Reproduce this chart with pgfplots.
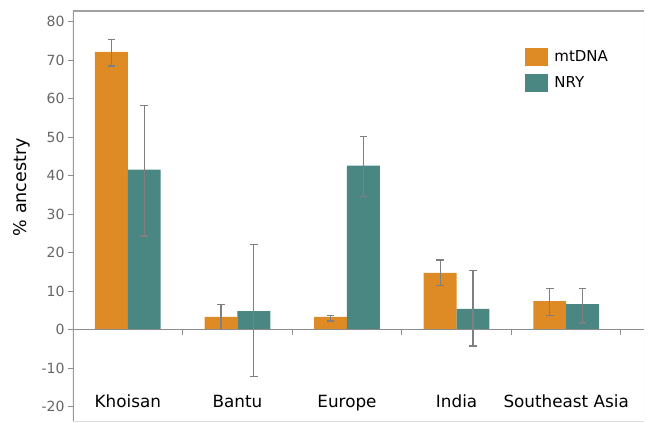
\documentclass[border=0pt]{standalone}
\usepackage{pgfplots}
\pgfplotsset{compat=1.18}
\usepackage{pgfplotstable}
\usepackage{fontspec}
\setmainfont{DejaVu Sans}
\definecolor{orng}{HTML}{DF8B25}
\definecolor{teal2}{HTML}{4A8682}
\definecolor{axgray}{HTML}{8C8C8C}
\definecolor{tkgray}{HTML}{666666}
\definecolor{errgray}{HTML}{7F7F7F}
\definecolor{topgray}{HTML}{A0A0A0}
\definecolor{lightgray2}{HTML}{DDDDDD}
\definecolor{leftgray}{HTML}{999999}

\pgfplotstableread{
x y ep em
0 72.2 3.2 3.7
1 3.3 3.2 3.3
2 3.3 0.4 1.1
3 14.7 3.4 3.2
4 7.4 3.2 3.7
}\mtdna
\pgfplotstableread{
x y ep em
0 41.6 16.6 17.3
1 4.8 17.3 16.9
2 42.6 7.6 8.1
3 5.4 10.0 9.7
4 6.6 4.0 4.9
}\nry

\begin{document}
\begin{tikzpicture}
\path[use as bounding box] (-73pt,-1.5pt) rectangle (575pt,421.5pt);
\begin{axis}[
  at={(0,0)}, anchor=south west,
  scale only axis, width=571pt, height=410.5pt,
  xmin=-0.5, xmax=4.71, ymin=-23.9, ymax=82.8,
  axis line style={draw=none},
  ybar=0pt, bar width=0.3,
  xtick={0,1,2,3,4},
  xticklabels={Khoisan,Bantu,Europe,India,Southeast Asia},
  x tick label style={anchor=base, yshift=19pt, font=\fontsize{16.8}{18}\selectfont, text=black},
  xtick style={draw=none},
  ytick={-20,-10,0,10,20,30,40,50,60,70,80},
  ytick pos=left, tick align=outside,
  major tick length=5pt,
  ytick style={axgray, line width=1pt},
  y tick label style={font=\fontsize{14}{15}\selectfont, text=tkgray},
  /pgf/number format/assume math mode=true,
  ylabel={\% ancestry},
  ylabel style={at={(axis description cs:-0.089,0.571)}, anchor=center, font=\fontsize{17.5}{19}\selectfont},
  legend style={at={(axis description cs:0.792,0.911)}, anchor=north west, draw=none, fill=none,
    inner sep=0pt, font=\fontsize{15}{16}\selectfont, row sep=8pt,
    /tikz/every even column/.append style={column sep=0pt}},
  legend cell align=left,
  legend image code/.code={\fill[#1,draw=none] (0pt,-9pt) rectangle (23pt,9pt);},
  error bars/y dir=both, error bars/y explicit,
  error bars/error bar style={errgray, line width=1.2pt},
  error bars/error mark options={rotate=90, mark size=3.8pt, errgray, line width=1.2pt},
]
\addplot[fill=orng, draw=none] table[x=x, y=y, y error plus=ep, y error minus=em] {\mtdna};
\addplot[fill=teal2, draw=none] table[x=x, y=y, y error plus=ep, y error minus=em] {\nry};
\legend{\hspace{4pt}mtDNA,\hspace{4pt}NRY}
\draw[axgray, line width=1.2pt] (axis cs:-0.5,0) -- (axis cs:4.71,0);
\draw[axgray, line width=1pt] (axis cs:0.5,0) -- ([yshift=-5pt]axis cs:0.5,0);
\draw[axgray, line width=1pt] (axis cs:1.5,0) -- ([yshift=-5pt]axis cs:1.5,0);
\draw[axgray, line width=1pt] (axis cs:2.5,0) -- ([yshift=-5pt]axis cs:2.5,0);
\draw[axgray, line width=1pt] (axis cs:3.5,0) -- ([yshift=-5pt]axis cs:3.5,0);
\draw[axgray, line width=1pt] (axis cs:4.5,0) -- ([yshift=-5pt]axis cs:4.5,0);
\draw[topgray, line width=1.5pt] (rel axis cs:0,1) -- (rel axis cs:1,1);
\draw[lightgray2, line width=1pt] (rel axis cs:1,1) -- (rel axis cs:1,0) -- (rel axis cs:0,0);
\draw[leftgray, line width=2pt] (rel axis cs:0,0) -- (rel axis cs:0,1);
\end{axis}
\end{tikzpicture}
\end{document}
